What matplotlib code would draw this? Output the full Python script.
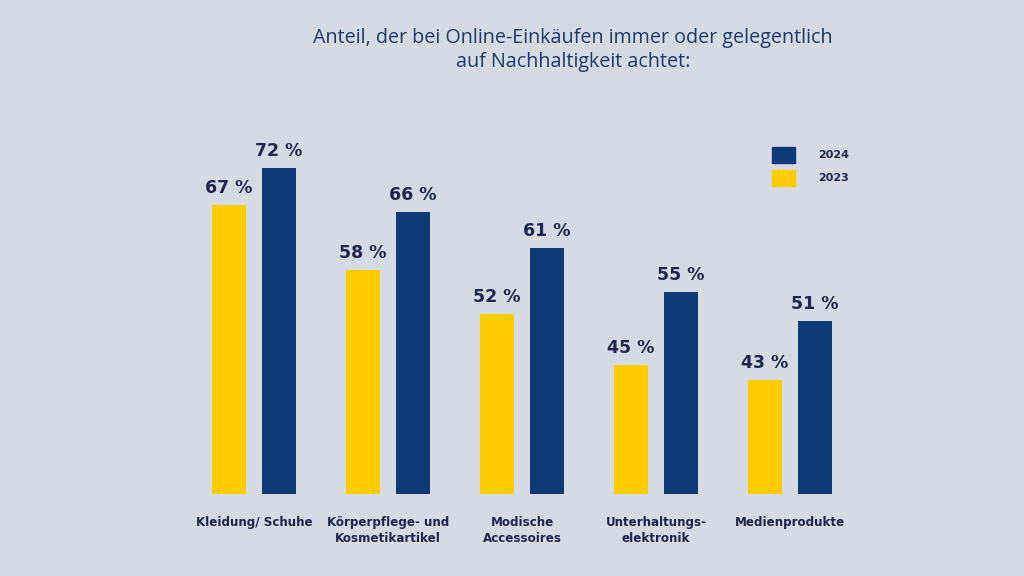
import numpy as np
import matplotlib.pyplot as plt

categories = ["Kleidung/ Schuhe", "Körperpflege- und\nKosmetikartikel", "Modische\nAccessoires",
              "Unterhaltungs-\nelektronik", "Medienprodukte"]
values_2023 = [67, 58, 52, 45, 43]
values_2024 = [72, 66, 61, 55, 51]

bg = "#d5dae3"
yellow = "#ffcc00"
navy = "#103a75"
text_dark = "#1f2550"

fig = plt.figure(figsize=(10.24, 5.76), dpi=100, facecolor=bg)
ax = fig.add_axes([0.0, 0.1424, 1.0, 0.667])
ax.set_facecolor(bg)

# x in pixel-like units: group centers spaced 134 px
x = 254 + 134 * np.arange(len(categories))
w = 34
off = 25
ax.bar(x - off, values_2023, width=w, color=yellow)
ax.bar(x + off, values_2024, width=w, color=navy)
ax.set_xlim(0, 1024)
ax.set_ylim(27.3, 80)

for xi, v in zip(x - off, values_2023):
    ax.text(xi, v + 1.1, f"{v} %", ha="center", va="bottom", fontsize=12.5,
            fontweight="bold", color=text_dark)
for xi, v in zip(x + off, values_2024):
    ax.text(xi, v + 1.1, f"{v} %", ha="center", va="bottom", fontsize=12.5,
            fontweight="bold", color=text_dark)

for xi, c in zip(x, categories):
    ax.text(xi, 27.3 - 3.0, c, ha="center", va="top", fontsize=8.6,
            fontweight="bold", color=text_dark, linespacing=1.3)

ax.axis("off")

# legend
fig.patches.append(plt.Rectangle((772 / 1024, 1 - 163 / 576), 23 / 1024, 16 / 576,
                                 transform=fig.transFigure, color=navy))
fig.patches.append(plt.Rectangle((772 / 1024, 1 - 186 / 576), 23 / 1024, 16 / 576,
                                 transform=fig.transFigure, color=yellow))
fig.text(818 / 1024, 1 - 155 / 576, "2024", ha="left", va="center", fontsize=8,
         fontweight="bold", color=text_dark)
fig.text(818 / 1024, 1 - 178 / 576, "2023", ha="left", va="center", fontsize=8,
         fontweight="bold", color=text_dark)

fig.text(573 / 1024, 1 - 50 / 576,
         "Anteil, der bei Online-Einkäufen immer oder gelegentlich\nauf Nachhaltigkeit achtet:",
         ha="center", va="center", fontsize=14.2, color="#1d3a6e", family="Open Sans",
         linespacing=1.25)

fig.savefig("out.png", dpi=100, facecolor=bg)
